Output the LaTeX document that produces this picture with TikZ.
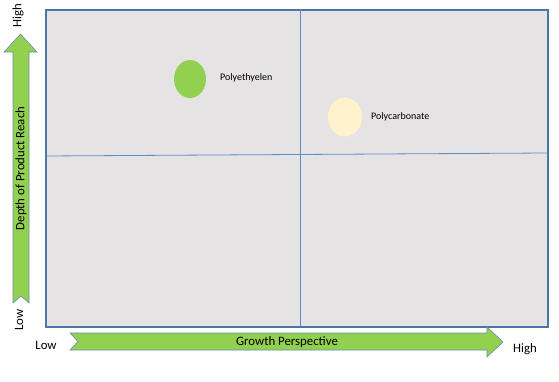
\documentclass[tikz,border=0pt]{standalone}
\usepackage{fontspec}
\setmainfont{Carlito}
\usetikzlibrary{shapes.geometric}
\begin{document}
\begin{tikzpicture}[x=1pt,y=-1pt,
  arrowshape/.style={fill=arrowgreen,draw=edgeblue,line width=0.6pt,line join=miter},
  axislabel/.style={font=\fontsize{12.8}{15}\selectfont,inner sep=0pt},
  itemlabel/.style={font=\fontsize{10}{12}\selectfont,inner sep=0pt,anchor=west}]
\definecolor{arrowgreen}{HTML}{92D050}
\definecolor{edgeblue}{HTML}{6A8CAF}
\definecolor{boxblue}{HTML}{4A76A8}
\definecolor{divblue}{HTML}{5B8DC9}
\definecolor{boxgray}{HTML}{E5E3E4}
\definecolor{paleyellow}{HTML}{FFF2CC}
\useasboundingbox (0,0) rectangle (559,381);
% matrix box
\node[draw=boxblue,fill=boxgray,line width=1.5pt,minimum width=502pt,minimum height=317pt,inner sep=0pt,anchor=north west] (box) at (45,9) {};
\draw[divblue,line width=0.8pt] (300,9) -- (300,326);
\draw[divblue,line width=0.8pt] (45,156) -- (547,153);
% vertical arrow
\draw[arrowshape] (13,303) -- (13,52) -- (4,52) -- (20.5,34) -- (37,52) -- (29,52) -- (29,303) -- (21,296) -- cycle;
\node[axislabel,rotate=90] (vlab) at (21,168.5) {Depth of Product Reach};
\node[axislabel,rotate=90] (vhigh) at (18,16) {High};
\node[axislabel,rotate=90] (vlow) at (19,320) {Low};
% horizontal arrow
\draw[arrowshape] (70,333) -- (487,333) -- (487,327) -- (503,342) -- (487,357) -- (487,350) -- (70,350) -- (78,341.5) -- cycle;
\node[axislabel] (hlab) at (287,342) {Growth Perspective};
\node[axislabel] (hlow) at (46,345) {Low};
\node[axislabel] (hhigh) at (525,349) {High};
% items
\node[ellipse,fill=arrowgreen,minimum width=32pt,minimum height=38pt,inner sep=0pt] (pe) at (190,79) {};
\node[itemlabel] (pel) at (220,78) {Polyethyelen};
\node[ellipse,fill=paleyellow,minimum width=34pt,minimum height=39pt,inner sep=0pt] (pc) at (345,117) {};
\node[itemlabel] (pcl) at (371,117) {Polycarbonate};
\end{tikzpicture}
\end{document}
